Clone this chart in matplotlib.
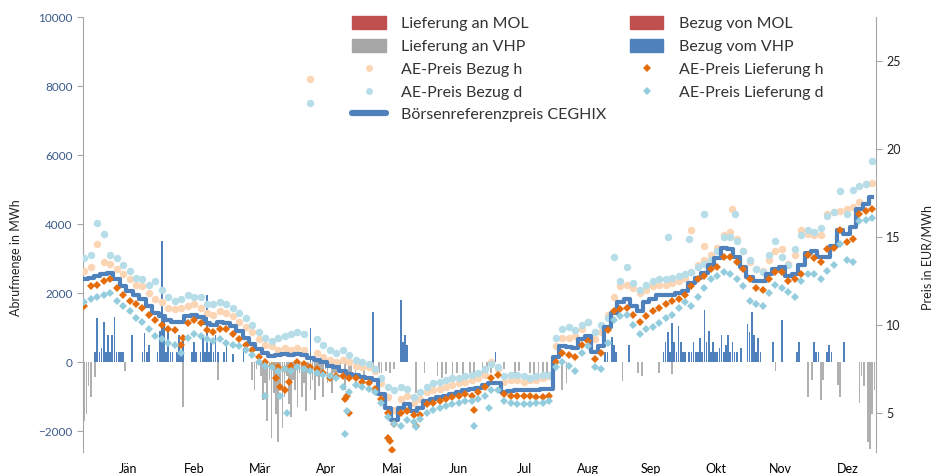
import numpy as np
import matplotlib.pyplot as plt
from matplotlib.patches import Patch
from matplotlib.lines import Line2D

plt.rcParams['font.family'] = ['Lato', 'DejaVu Sans']

tage = np.arange(-5, 362, 3)

ceghix = [12.6, 12.7, 12.8, 12.9, 12.95, 12.6, 12.2, 11.95, 11.7, 11.5,
          11.1, 10.7, 10.5, 10.3, 10.2, 10.2, 10.5, 10.6, 10.45, 10.1,
          10.0, 10.17, 10.1, 9.95, 9.65, 9.3, 8.95, 8.65, 8.4, 8.25,
          8.3, 8.35, 8.3, 8.35, 8.3, 8.15, 8.05, 7.9, 7.7, 7.6,
          7.4, 7.25, 7.15, 7.05, 7.0, 6.9, 6.1, 5.3, 4.6, 5.3,
          5.5, 5.1, 5.3, 5.7, 5.8, 5.9, 6.0, 6.1, 6.2, 6.3,
          6.4, 6.45, 6.6, 6.7, 6.7, 6.2, 6.25, 6.3, 6.3, 6.3,
          6.3, 6.35, 6.4, 8.2, 8.8, 8.75, 8.7, 9.2, 9.4, 8.5,
          8.8, 9.9, 10.7, 11.3, 11.5, 11.1, 10.8, 11.3, 11.5, 11.7,
          11.7, 11.7, 11.8, 11.95, 12.4, 12.7, 12.95, 13.4, 13.8, 14.4,
          14.35, 13.9, 13.3, 12.75, 12.5, 12.5, 12.9, 13.2, 13.3, 12.8,
          12.9, 13.4, 14.1, 14.2, 13.85, 13.9, 14.5, 15.4, 15.2, 15.6,
          16.6, 16.9, 17.3]

bezug_h = [13.1, 13.3, 14.6, 13.6, 13.5, 13.2, 12.9, 12.6, 12.3, 12.2,
           11.8, 11.5, 11.3, 11.0, 10.9, 11.0, 11.1, 11.2, 11.0, 10.7,
           10.6, 10.8, 10.7, 10.5, 10.2, 9.9, 9.6, 9.2, 8.9, 8.8,
           8.6, 8.7, 8.6, 8.7, 8.6, 24.0, 8.4, 8.2, 8.0, 7.9,
           8.0, 7.9, 7.7, 7.6, 7.6, 7.4, 6.7, 5.9, 5.2, 5.8,
           6.0, 5.6, 5.8, 6.2, 6.3, 6.4, 6.5, 6.6, 6.7, 6.8,
           6.9, 7.0, 7.2, 7.9, 7.5, 6.8, 6.9, 6.9, 6.8, 6.9,
           6.9, 7.0, 7.1, 8.8, 9.3, 9.3, 9.4, 9.8, 10.2, 9.2,
           9.6, 10.6, 11.6, 12.2, 12.3, 12.1, 11.8, 12.0, 12.2, 12.3,
           12.3, 12.4, 12.5, 12.7, 13.0, 13.4, 13.7, 14.0, 14.4, 15.1,
           15.3, 14.9, 14.2, 13.6, 13.2, 13.1, 13.7, 14.2, 14.3, 13.5,
           14.0, 15.4, 15.2, 15.1, 15.1, 16.3, 16.4, 16.5, 16.6, 16.7,
           17.0, 18.0, 18.1]

bezug_d = [13.8, 14.0, 15.8, 15.2, 14.0, 13.8, 13.4, 13.1, 12.7, 12.6,
           12.3, 12.5, 12.0, 11.6, 11.4, 11.5, 11.7, 11.6, 11.6, 11.2,
           11.2, 11.3, 11.2, 11.0, 10.7, 10.4, 10.0, 9.6, 9.3, 9.1,
           9.3, 9.4, 9.5, 9.6, 9.5, 22.6, 9.2, 8.9, 8.6, 8.4,
           8.6, 8.3, 8.0, 7.9, 7.8, 7.5, 7.0, 6.5, 6.3, 6.5,
           6.4, 5.9, 6.2, 6.5, 6.7, 6.8, 6.9, 7.0, 7.0, 7.1,
           7.2, 7.3, 7.5, 7.8, 7.6, 7.1, 7.2, 7.2, 7.1, 7.0,
           7.1, 7.2, 7.2, 9.3, 9.8, 9.9, 9.7, 10.0, 10.2, 9.6,
           10.0, 10.4, 13.9, 12.5, 13.3, 12.4, 12.0, 12.3, 12.5, 12.6,
           12.6, 12.7, 12.8, 12.9, 13.0, 13.3, 13.5, 13.7, 14.2, 15.0,
           15.0, 14.8, 14.2, 13.7, 13.2, 13.0, 14.0, 14.8, 13.9, 13.4,
           14.3, 15.1, 15.4, 15.3, 15.5, 16.2, 16.4, 17.6, 16.3, 17.7,
           17.9, 18.0, 19.3]

lieferung_h = [11.1, 12.2, 12.3, 12.5, 12.6, 12.1, 11.7, 11.4, 11.2, 11.0,
               10.6, 10.3, 10.0, 9.8, 9.7, 8.9, 10.1, 10.3, 10.1, 9.7,
               9.6, 9.8, 9.8, 9.5, 9.2, 8.9, 8.6, 8.2, 7.9, 7.7,
               7.6, 7.5, 7.7, 7.9, 7.8, 7.6, 7.5, 7.3, 7.0, 7.1,
               7.1, 7.0, 7.0, 6.8, 6.7, 6.4, 5.8, 5.0, 4.4, 5.0,
               5.1, 4.9, 4.9, 5.5, 5.6, 5.7, 5.8, 5.9, 6.0, 6.1,
               6.0, 6.2, 6.5, 7.0, 7.2, 6.1, 6.0, 6.0, 6.0, 6.0,
               5.9, 5.9, 6.0, 7.9, 8.4, 8.3, 8.2, 8.9, 9.1, 8.1,
               8.4, 9.7, 10.8, 10.9, 11.0, 10.6, 10.2, 10.5, 10.8, 11.0,
               11.2, 11.4, 11.5, 11.7, 12.2, 12.6, 12.8, 13.2, 13.3, 13.9,
               13.9, 13.6, 13.2, 12.6, 12.1, 12.0, 12.6, 13.0, 13.0, 12.5,
               12.6, 12.9, 14.0, 13.8, 13.6, 14.3, 14.4, 15.4, 14.7, 14.9,
               16.3, 16.5, 16.6]

lieferung_d = [11.3, 11.5, 11.6, 11.7, 11.8, 11.4, 11.1, 10.8, 10.4, 10.2,
               9.8, 9.4, 9.2, 9.0, 8.9, 8.4, 9.3, 9.5, 9.4, 9.2,
               9.1, 9.2, 9.0, 8.9, 8.8, 8.6, 8.3, 7.9, 7.7, 7.6,
               7.4, 7.5, 7.4, 7.6, 7.5, 7.4, 7.3, 7.2, 7.1, 7.0,
               6.5, 6.2, 6.6, 6.5, 6.4, 6.2, 5.6, 4.8, 4.4, 4.3,
               4.6, 4.5, 4.7, 5.0, 5.2, 5.3, 5.4, 5.5, 5.6, 5.7,
               5.7, 5.8, 6.0, 6.3, 6.3, 5.7, 5.6, 5.5, 5.5, 5.5,
               5.6, 5.6, 5.7, 7.6, 7.9, 7.7, 7.4, 8.4, 8.8, 7.6,
               7.5, 9.0, 10.3, 10.5, 10.6, 10.0, 9.5, 9.8, 9.9, 10.1,
               10.4, 10.6, 11.0, 11.3, 11.1, 11.6, 12.1, 12.6, 12.8, 13.0,
               12.9, 12.6, 12.2, 11.4, 11.2, 11.1, 11.8, 12.3, 12.1, 11.9,
               11.6, 12.5, 12.9, 12.9, 12.6, 13.1, 13.4, 14.6, 13.7, 13.6,
               15.9, 16.0, 16.1]

# einzelne Ausreißer
bezug_h_aus_tage = [277, 283, 296]
bezug_h_aus = [15.4, 14.5, 16.6]
bezug_d_aus_tage = [266, 276, 283, 297]
bezug_d_aus = [15.0, 14.9, 16.3, 16.3]
lieferung_h_aus_tage = [41, 84, 86, 88, 90, 116, 117, 118, 136, 137, 138, 149, 176]
lieferung_h_aus = [9.3, 7.0, 6.5, 6.3, 6.8, 5.8, 6.0, 5.0, 3.6, 3.4, 2.9, 4.3, 5.2]
lieferung_d_aus_tage = [79, 86, 89, 116, 117, 149, 176, 183]
lieferung_d_aus = [6.0, 6.0, 5.0, 3.8, 5.1, 4.2, 4.3, 5.3]

# Abrufmengen VHP (MWh)
bezug_vhp_tage = [0, 1, 2, 3, 4, 5, 6, 7, 8, 9, 10, 11, 12, 13, 17,
                  22, 23, 24, 25, 29, 30, 31, 32, 33, 34, 35, 36, 38, 39, 40, 41,
                  45, 46, 47, 49, 50, 51, 52, 53, 54, 55, 56, 57, 60, 61, 64, 69,
                  100, 129, 142, 143, 144, 145, 186,
                  237, 238, 240, 241, 242, 248,
                  264, 265, 266, 267, 268, 269, 270, 271, 272, 273, 274, 276, 277, 278,
                  279, 280, 281, 282, 283, 284, 285, 286, 287, 288, 289, 290, 291, 292,
                  293, 294, 295, 296, 297, 298, 300, 303, 304, 305, 306, 307, 308, 309,
                  315, 319, 326, 327, 334, 335, 336, 340, 341, 342, 348]
bezug_vhp = [300, 1270, 300, 400, 1160, 300, 780, 300, 780, 1300, 300, 300, 300, 300, 780,
             300, 850, 300, 500, 300, 900, 3500, 1300, 300, 900, 300, 300, 300, 800, 300, 800,
             300, 600, 300, 300, 800, 300, 1950, 300, 600, 300, 800, 300, 300, 600, 250, 400,
             1000, 1450, 1800, 580, 780, 490, 310,
             310, 300, 740, 500, 300, 500,
             300, 600, 870, 300, 1130, 600, 300, 1050, 600, 300, 300, 300, 300, 600,
             300, 300, 700, 300, 1500, 600, 900, 300, 600, 300, 300, 400, 800, 300,
             500, 800, 300, 600, 300, 300, 400, 1100, 880, 1450, 800, 300, 700, 300,
             600, 1220, 300, 600, 600, 300, 300, 300, 500, 300, 600]

lieferung_vhp_tage = [-5, -4, -3, -2, 0, 14, 41, 57, 73, 74, 75,
                      77, 78, 79, 80, 81, 82, 83, 84, 85, 86, 87, 88, 89, 90, 91, 92, 93,
                      94, 95, 96, 97, 98, 99, 100, 101, 102, 103, 104, 105, 106, 107, 108,
                      110, 111, 112, 114, 116, 118, 119, 121, 123, 125, 127, 129, 132,
                      133, 135, 137, 139, 149, 153, 159, 161, 163, 166, 168, 171, 174, 176,
                      180, 182, 184, 190, 195, 197, 202, 204, 206, 208, 210,
                      217, 219, 245, 252, 254, 262, 268, 316, 331, 333, 337, 338, 345, 346,
                      355, 356, 357, 359, 360, 361, 362]
lieferung_vhp = [-1700, -1500, -700, -1000, -430, -250, -1300, -500, -500, -800, -200,
                 -400, -1100, -600, -1700, -500, -2200, -900, -1500, -2300, -700, -1900, -1000, -400,
                 -1200, -1600, -500, -800, -1300, -300, -1000, -600, -1400, -300, -800, -500, -1100,
                 -300, -700, -400, -1000, -200, -600, -900, -300, -500, -300, -800, -400, -300,
                 -600, -200, -500, -200, -300, -300,
                 -300, -250, -300, -200, -900, -300, -400, -450, -350, -400, -300, -500, -300, -350,
                 -300, -250, -300, -200, -300, -250, -300, -450, -350, -400, -300,
                 -800, -600, -540, -300, -400, -320, -350, -250, -1000, -500, -1100, -500, -650,
                 -1000, -1170, -400, -700, -2300, -2500, -1500, -800]

monate = ['Jän', 'Feb', 'Mär', 'Apr', 'Mai', 'Jun', 'Jul', 'Aug', 'Sep', 'Okt', 'Nov', 'Dez']
monat_pos = [15.3, 46.0, 76.6, 107.3, 138.0, 168.6, 199.3, 229.0, 258.3, 288.5, 318.2, 349.8]

c_rot = '#C0504D'
c_grau = '#B0B0B0'
c_blau = '#4F81BD'
c_pfirsich = '#FCD5B5'
c_orange = '#E46C0A'
c_hellblau1 = '#B7DEE8'
c_hellblau2 = '#93CDDD'

fig = plt.figure(figsize=(9.36, 4.74), dpi=100)
ax = fig.add_axes([83 / 936, 22 / 474, 793 / 936, 435 / 474])

ax.bar(bezug_vhp_tage, bezug_vhp, width=0.8, color=c_blau, linewidth=0)
ax.bar(lieferung_vhp_tage, lieferung_vhp, width=0.8, color=c_grau, linewidth=0)

ax.set_xlim(-5.6, 362.7)
ax.set_ylim(-2600, 10000)
ax.set_yticks(np.arange(-2000, 10001, 2000))
ax.tick_params(axis='y', colors='#A6A6A6', labelcolor='#3B5A8A', labelsize=8.5, length=4, width=0.8)
ax.set_xticks(monat_pos)
ax.set_xticklabels(monate)
ax.tick_params(axis='x', length=0, labelsize=9, pad=8)
for s in ['top', 'right', 'bottom']:
    ax.spines[s].set_visible(False)
ax.spines['left'].set_color('#A6A6A6')

ax2 = ax.twinx()
ax2.step(tage, ceghix, where='mid', color=c_blau, lw=3, zorder=3)
ax2.plot(np.concatenate([tage, bezug_h_aus_tage]), bezug_h + bezug_h_aus,
         'o', color=c_pfirsich, ms=5.4, mew=0, zorder=2)
ax2.plot(np.concatenate([tage, bezug_d_aus_tage]), bezug_d + bezug_d_aus,
         'o', color=c_hellblau1, ms=5.4, mew=0, zorder=2)
ax2.plot(np.concatenate([tage, lieferung_h_aus_tage]), lieferung_h + lieferung_h_aus,
         'D', color=c_orange, ms=4.2, mew=0, zorder=4)
ax2.plot(np.concatenate([tage, lieferung_d_aus_tage]), lieferung_d + lieferung_d_aus,
         'D', color=c_hellblau2, ms=4.2, mew=0, zorder=4)
ax2.set_ylim(2.8, 27.5)
ax2.set_yticks([5, 10, 15, 20, 25])
ax2.tick_params(axis='y', colors='#A6A6A6', labelcolor='#222222', labelsize=9, length=4, width=0.8)
for s in ['top', 'left', 'bottom']:
    ax2.spines[s].set_visible(False)
ax2.spines['right'].set_color('#A6A6A6')

fig.text(16 / 936, 1 - 258 / 474, 'Abrufmenge in MWh', rotation=90, ha='center', va='center',
         fontsize=9, color='#222222')
fig.text(928 / 936, 1 - 258 / 474, 'Preis in EUR/MWh', rotation=90, ha='center', va='center',
         fontsize=9, color='#222222')

handles = [
    Patch(color=c_rot), Patch(color='#A6A6A6'),
    Line2D([], [], ls='', marker='o', color=c_pfirsich, ms=5, mew=0),
    Line2D([], [], ls='', marker='o', color=c_hellblau1, ms=5, mew=0),
    Line2D([], [], color=c_blau, lw=4.5, solid_capstyle='round'),
    Patch(color=c_rot), Patch(color=c_blau),
    Line2D([], [], ls='', marker='D', color=c_orange, ms=4, mew=0),
    Line2D([], [], ls='', marker='D', color=c_hellblau2, ms=4, mew=0),
]
labels = ['Lieferung an MOL', 'Lieferung an VHP', 'AE-Preis Bezug h', 'AE-Preis Bezug d',
          'Börsenreferenzpreis CEGHIX', 'Bezug von MOL', 'Bezug vom VHP',
          'AE-Preis Lieferung h', 'AE-Preis Lieferung d']
fig.legend(handles, labels, ncol=2, loc='upper left', bbox_to_anchor=(352 / 936, 1 - 16 / 474),
           frameon=False, fontsize=11.5, handlelength=2.1, handleheight=0.85,
           handletextpad=0.95, labelspacing=0.5, columnspacing=1.5,
           borderpad=0, borderaxespad=0, labelcolor='#333333')

fig.savefig('out.png', dpi=100)
